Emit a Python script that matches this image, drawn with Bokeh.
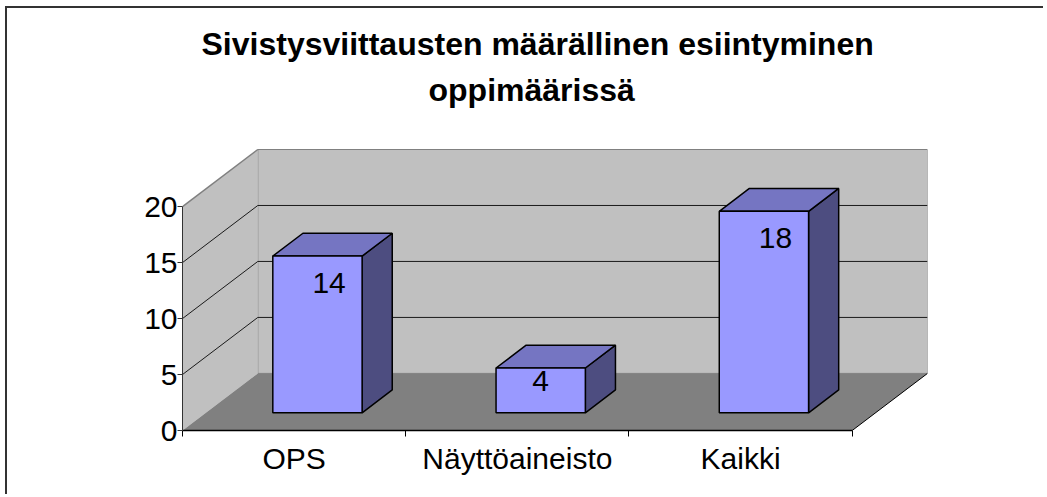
from bokeh.plotting import figure
from bokeh.models import Range1d, FixedTicker, LinearAxis, ColumnDataSource, Title
from bokeh.embed import file_html
from bokeh.resources import INLINE
from bokeh.core.properties import value

# ---- data ----
categories = ["OPS", "Näyttöaineisto", "Kaikki"]
values = [14, 4, 18]
y_ticks = [0, 5, 10, 15, 20]
title_lines = ["Sivistysviittausten määrällinen esiintyminen", "oppimäärissä"]

# ---- 3D (oblique) geometry, in data units ----
Y_MAX = 20
DX = 0.3373      # depth offset in category units
DY = 5.1         # depth offset in value units
BAR_W = 0.4
D0, D1 = 0.31, 0.71
FONT = "Liberation Sans"

FRONT = "#9999ff"
TOP = "#7575c2"
SIDE = "#4d4d80"
WALL = "#c0c0c0"
FLOOR = "#808080"

n = len(categories)

# the frame reaches 37px above the back wall so the title can sit close to it
FRAME_H = 318
WALL_H = 281
Y_END = (Y_MAX + DY) * FRAME_H / WALL_H

p = figure(frame_width=745, frame_height=FRAME_H,
           x_range=Range1d(0, n + DX), y_range=Range1d(0, Y_END),
           x_axis_type=None, y_axis_type=None,
           toolbar_location=None, output_backend="svg",
           min_border_left=175, min_border_right=116,
           min_border_top=104, min_border_bottom=64)
p.outline_line_color = None
p.background_fill_color = "white"
p.border_fill_color = "white"
p.styles = {"margin-left": "5px", "margin-top": "6px",
            "border-top": "2px solid #333333", "border-left": "2px solid #333333"}

# title: two lines, the second one nearest to the frame
t2 = Title(text=title_lines[1], align="left", offset=246, standoff=10,
           text_font=FONT, text_font_size="32px", text_font_style="bold", text_color="black")
t1 = Title(text=title_lines[0], align="left", offset=19, standoff=5,
           text_font=FONT, text_font_size="32px", text_font_style="bold", text_color="black")
p.add_layout(t2, "above")
p.add_layout(t1, "above")

# back wall
p.quad(left=DX, right=n + DX, bottom=DY, top=Y_MAX + DY,
       fill_color=WALL, line_color=FLOOR, line_width=1)
# side wall
p.patch([0, 0, DX, DX], [0, Y_MAX, Y_MAX + DY, DY], fill_color=WALL, line_color=None)
# floor
p.patch([0, n, n + DX, DX], [0, 0, DY, DY], fill_color=FLOOR, line_color=None)

# gridlines on walls
inner = [t for t in y_ticks if 0 < t < Y_MAX]
p.segment(x0=[DX] * len(inner), y0=[t + DY for t in inner],
          x1=[n + DX] * len(inner), y1=[t + DY for t in inner],
          line_color="#1a1a1a", line_width=1)
p.segment(x0=[0] * len(inner), y0=inner,
          x1=[DX] * len(inner), y1=[t + DY for t in inner],
          line_color="#1a1a1a", line_width=1)
# side wall top edge and floor right edge
p.segment(x0=[0], y0=[Y_MAX], x1=[DX], y1=[Y_MAX + DY], line_color=FLOOR, line_width=1.5)
p.segment(x0=[n], y0=[0], x1=[n + DX], y1=[DY], line_color="black", line_width=1)

# bars
w = D1 - D0
fx, fy, tx, ty, sx, sy = [], [], [], [], [], []
lx, ly = [], []
for i, v in enumerate(values):
    L = i + 0.5 - BAR_W / 2 + D0 * DX
    R = i + 0.5 + BAR_W / 2 + D0 * DX
    B = D0 * DY
    T = v + D0 * DY
    fx.append([L, R, R, L]); fy.append([B, B, T, T])
    tx.append([L, R, R + w * DX, L + w * DX]); ty.append([T, T, T + w * DY, T + w * DY])
    sx.append([R, R + w * DX, R + w * DX, R]); sy.append([B, B + w * DY, T + w * DY, T])
    lx.append((L + R) / 2 + (0.052 if v > 5 else 0))
    ly.append(T - min(2.4, 0.3 * v))

p.patches(sx, sy, fill_color=SIDE, line_color="black", line_width=1.5)
p.patches(tx, ty, fill_color=TOP, line_color="black", line_width=1.5)
p.patches(fx, fy, fill_color=FRONT, line_color="black", line_width=1.5)

src = ColumnDataSource(dict(x=lx, y=ly, t=[str(v) for v in values]))
p.text(x="x", y="y", text="t", source=src, text_align="center", text_baseline="middle",
       text_font=value(FONT), text_font_size="30px", text_color="black")

# axes
yaxis = LinearAxis(ticker=FixedTicker(ticks=y_ticks), bounds=(0, Y_MAX))
yaxis.major_tick_out = 5
yaxis.major_tick_in = 0
yaxis.minor_tick_out = 0
yaxis.major_label_standoff = 0
yaxis.major_label_text_font = FONT
yaxis.major_label_text_font_size = "30px"
yaxis.major_label_text_color = "black"
yaxis.axis_line_color = "#333333"
yaxis.major_tick_line_color = "#333333"
p.add_layout(yaxis, "left")

centers = [i + 0.5 for i in range(n)]
xaxis = LinearAxis(ticker=FixedTicker(ticks=centers, minor_ticks=list(range(n + 1))),
                   bounds=(0, n))
xaxis.major_label_overrides = {c: name for c, name in zip(centers, categories)}
xaxis.major_tick_line_color = None
xaxis.major_tick_out = 0
xaxis.major_tick_in = 0
xaxis.minor_tick_out = 6
xaxis.minor_tick_in = 0
xaxis.minor_tick_line_color = "black"
xaxis.axis_line_color = "black"
xaxis.axis_line_width = 1.5
xaxis.major_label_standoff = 5
xaxis.major_label_text_font = FONT
xaxis.major_label_text_font_size = "30px"
xaxis.major_label_text_color = "black"
p.add_layout(xaxis, "below")

p.xgrid.visible = False
p.ygrid.visible = False

open("out.html", "w").write(file_html(p, INLINE))
